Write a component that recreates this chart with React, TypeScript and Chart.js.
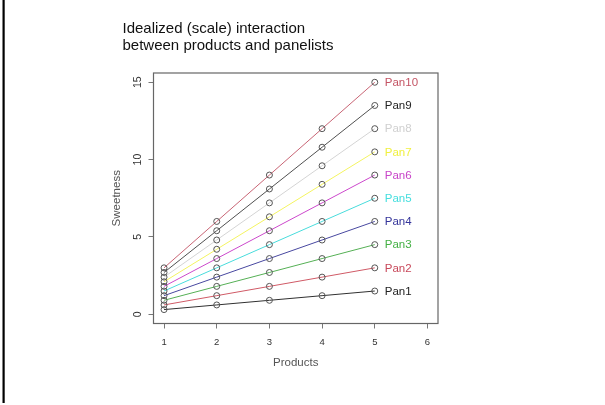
import React, { useEffect, useRef } from 'react';
import { Chart, registerables } from 'chart.js';

Chart.register(...registerables);

const products = [1, 2, 3, 4, 5];
const pan1 = [0.3, 0.6, 0.9, 1.2, 1.5];
const pan2 = [0.6, 1.2, 1.8, 2.4, 3.0];
const pan3 = [0.9, 1.8, 2.7, 3.6, 4.5];
const pan4 = [1.2, 2.4, 3.6, 4.8, 6.0];
const pan5 = [1.5, 3.0, 4.5, 6.0, 7.5];
const pan6 = [1.8, 3.6, 5.4, 7.2, 9.0];
const pan7 = [2.1, 4.2, 6.3, 8.4, 10.5];
const pan8 = [2.4, 4.8, 7.2, 9.6, 12.0];
const pan9 = [2.7, 5.4, 8.1, 10.8, 13.5];
const pan10 = [3.0, 6.0, 9.0, 12.0, 15.0];

const panelNames = ['Pan1', 'Pan2', 'Pan3', 'Pan4', 'Pan5', 'Pan6', 'Pan7', 'Pan8', 'Pan9', 'Pan10'];
const panelSeries = [pan1, pan2, pan3, pan4, pan5, pan6, pan7, pan8, pan9, pan10];
const lineColors = ['#303030', '#d05a66', '#55b055', '#4848a0', '#48dcdc', '#cc48cc', '#f4f460', '#d4d4d4', '#505050', '#c86474'];
const labelColors = ['#222222', '#c8485a', '#44b044', '#34349a', '#44dede', '#c844c8', '#f0f040', '#d0d0d0', '#222222', '#c45464'];

const xTicks = [1, 2, 3, 4, 5, 6];
const yTicks = [0, 5, 10, 15];
const titleLines = ['Idealized (scale) interaction', 'between products and panelists'];
const xTitle = 'Products';
const yTitle = 'Sweetness';

const FONT = '"Liberation Sans", Arial, sans-serif';

export default function App() {
  const ref = useRef<HTMLCanvasElement | null>(null);

  useEffect(() => {
    const canvas = ref.current;
    if (!canvas) return;

    const decor = {
      id: 'decor',
      afterDatasetsDraw(chart: any) {
        const { ctx, chartArea, scales } = chart;
        ctx.save();
        // plot box
        ctx.strokeStyle = '#666';
        ctx.lineWidth = 1.2;
        ctx.strokeRect(chartArea.left, chartArea.top, chartArea.right - chartArea.left, chartArea.bottom - chartArea.top);
        // series labels at the last point
        ctx.font = '11.5px ' + FONT;
        ctx.textAlign = 'left';
        ctx.textBaseline = 'middle';
        panelSeries.forEach((s, i) => {
          const last = s.length - 1;
          const px = scales.x.getPixelForValue(products[last]);
          const py = scales.y.getPixelForValue(s[last]);
          ctx.fillStyle = labelColors[i];
          ctx.fillText(panelNames[i], px + 10, py + 0.5);
        });
        // title
        ctx.fillStyle = '#111';
        ctx.font = '15px ' + FONT;
        ctx.textBaseline = 'alphabetic';
        ctx.fillText(titleLines[0], 122.5, 33);
        ctx.fillText(titleLines[1], 122.5, 49.5);
        // left border line
        ctx.fillStyle = '#000';
        ctx.fillRect(2.5, 0, 2.2, 403);
        ctx.restore();
      },
    };

    const chart = new Chart(canvas, {
      type: 'line',
      data: {
        datasets: panelSeries.map((s, i) => ({
          label: panelNames[i],
          data: products.map((p, j) => ({ x: p, y: s[j] })),
          borderColor: lineColors[i],
          borderWidth: 1,
          pointRadius: 3,
          pointBorderWidth: 1,
          pointBorderColor: '#555',
          pointBackgroundColor: 'rgba(0,0,0,0)',
          fill: false,
          tension: 0,
        })),
      },
      options: {
        responsive: false,
        animation: false,
        events: [],
        layout: { padding: { top: 73, right: 167, left: 0, bottom: 0 } },
        plugins: {
          legend: { display: false },
          title: { display: false },
          tooltip: { enabled: false },
        },
        scales: {
          x: {
            type: 'linear',
            min: 0.8,
            max: 6.2,
            afterBuildTicks: (s: any) => {
              s.ticks = xTicks.map((v) => ({ value: v }));
            },
            afterFit: (s: any) => {
              s.height = 81.5;
            },
            grid: { display: true, drawOnChartArea: false, drawTicks: true, tickLength: 5, color: '#777', lineWidth: 1 },
            border: { display: false },
            ticks: {
              autoSkip: false,
              maxRotation: 0,
              padding: 8,
              color: '#333',
              font: { family: FONT, size: 9.5 },
              callback: (v: any) => String(v),
            },
            title: {
              display: true,
              text: xTitle,
              color: '#555',
              font: { family: FONT, size: 11.5 },
              padding: { top: 0, bottom: 35.4 },
            },
          },
          y: {
            type: 'linear',
            min: -0.6,
            max: 15.6,
            afterBuildTicks: (s: any) => {
              s.ticks = yTicks.map((v) => ({ value: v }));
            },
            afterFit: (s: any) => {
              s.width = 153.5;
            },
            grid: { display: true, drawOnChartArea: false, drawTicks: true, tickLength: 5, color: '#777', lineWidth: 1 },
            border: { display: false },
            ticks: {
              minRotation: 90,
              maxRotation: 90,
              crossAlign: 'center',
              padding: 5,
              color: '#333',
              font: { family: FONT, size: 10.5 },
              callback: (v: any) => String(v),
            },
            title: {
              display: true,
              text: yTitle,
              color: '#555',
              font: { family: FONT, size: 11.5 },
              padding: { top: 110, bottom: 0 },
            },
          },
        },
      } as any,
      plugins: [decor],
    });

    return () => chart.destroy();
  }, []);

  return (
    <div style={{ position: 'absolute', left: 0, top: 0, width: 605, height: 405, background: '#fff' }}>
      <canvas ref={ref} width={605} height={405} style={{ display: 'block' }} />
    </div>
  );
}
